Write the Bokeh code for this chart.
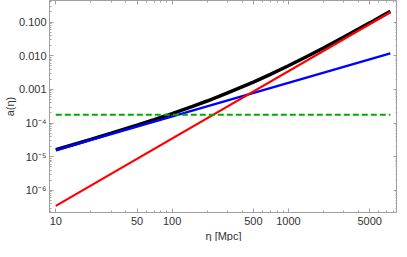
from bokeh.plotting import figure
from bokeh.models import (Range1d, FixedTicker, CustomJSTickFormatter, LogAxis, Title)
from bokeh.embed import file_html
from bokeh.resources import INLINE

# ---- data ----
eta_total = [10, 15, 20, 30, 50, 70, 100, 150, 200, 300, 500, 700, 1000,
             1500, 2000, 3000, 5000, 7520]
a_total = [1.61e-5, 2.44e-5, 3.28e-5, 5.03e-5, 8.73e-5, 1.27e-4, 1.92e-4,
           3.14e-4, 4.53e-4, 7.84e-4, 1.65e-3, 2.80e-3, 5.04e-3, 1.02e-2,
           1.70e-2, 3.59e-2, 9.46e-2, 0.208]
eta_rad = [10, 7520]
a_rad = [1.57e-5, 0.0118]
eta_mat = [10, 7520]
a_mat = [3.47e-7, 0.196]
eta_eq_line = [10, 7520]
a_eq_line = [1.78e-4, 1.78e-4]

x_ticks = [10, 50, 100, 500, 1000, 5000]
x_tick_labels = ["10", "50", "100", "500", "1000", "5000"]
y_ticks = [1e-6, 1e-5, 1e-4, 1e-3, 1e-2, 1e-1]
y_tick_labels = ["10\u207b\u2076", "10\u207b\u2075", "10\u207b\u2074", "0.001", "0.010", "0.100"]
x_title = "\u03b7 [Mpc]"
y_title = "a(\u03b7)"

x_minor = [m * d for d in (1, 10, 100, 1000) for m in range(2, 10)]
y_minor = [m * 10.0 ** e for e in range(-7, 0) for m in range(1, 10)]

FONT = "Liberation Sans"
FRAME = "#a0a0a0"
TXT = "#333333"

p = figure(width=397, height=241, x_axis_type="log", y_axis_type="log",
           x_range=Range1d(8.83, 8670), y_range=Range1d(2.21e-7, 0.438),
           output_backend="svg", toolbar_location=None,
           min_border_left=0, min_border_right=0, min_border_top=0, min_border_bottom=0)
p.grid.visible = False
p.outline_line_color = FRAME
p.background_fill_color = "white"
p.border_fill_color = "white"

fmt_code = """
for (let i = 0; i < tvals.length; i++) {
  if (Math.abs(Math.log10(tvals[i]) - Math.log10(tick)) < 1e-6) return tlabels[i];
}
return '';
"""

xt = FixedTicker(ticks=x_ticks, minor_ticks=x_minor)
yt = FixedTicker(ticks=y_ticks, minor_ticks=y_minor)
p.xaxis.ticker = xt
p.yaxis.ticker = yt
p.xaxis.formatter = CustomJSTickFormatter(args=dict(tvals=x_ticks, tlabels=x_tick_labels), code=fmt_code)
p.yaxis.formatter = CustomJSTickFormatter(args=dict(tvals=y_ticks, tlabels=y_tick_labels), code=fmt_code)

for ax in (p.xaxis[0], p.yaxis[0]):
    ax.axis_line_color = FRAME
    ax.major_tick_line_color = FRAME
    ax.minor_tick_line_color = FRAME
    ax.major_tick_in = 4
    ax.major_tick_out = 0
    ax.minor_tick_in = 2
    ax.minor_tick_out = 0
    ax.major_label_text_font = FONT
    ax.major_label_text_font_size = "11px"
    ax.major_label_text_color = TXT
    ax.axis_label_text_font = FONT
    ax.axis_label_text_font_size = "11px"
    ax.axis_label_text_font_style = "normal"
    ax.axis_label_text_color = TXT

p.yaxis.axis_label = y_title
p.xaxis.major_label_standoff = 4
p.yaxis.major_label_standoff = 3
p.yaxis.axis_label_standoff = 0

p.add_layout(Title(text=x_title, align="center", text_font=FONT, text_font_size="11px",
                   text_color=TXT, text_font_style="normal", standoff=0, offset=0), "below")

empty = CustomJSTickFormatter(code="return '';")
top = LogAxis(ticker=FixedTicker(ticks=x_ticks, minor_ticks=x_minor), formatter=empty)
right = LogAxis(ticker=FixedTicker(ticks=y_ticks, minor_ticks=y_minor), formatter=empty)
for ax in (top, right):
    ax.axis_line_color = FRAME
    ax.major_tick_line_color = FRAME
    ax.minor_tick_line_color = FRAME
    ax.major_tick_in = 4
    ax.major_tick_out = 0
    ax.minor_tick_in = 2
    ax.minor_tick_out = 0
    ax.major_label_standoff = 0
    ax.major_label_text_font_size = "0px"
p.add_layout(top, "above")
p.add_layout(right, "right")

p.line(eta_total, a_total, line_color="black", line_width=3.5)
p.line(eta_rad, a_rad, line_color="#0000ff", line_width=2.2)
p.line(eta_mat, a_mat, line_color="#ff0000", line_width=2.2)
p.line(eta_eq_line, a_eq_line, line_color="#00aa00", line_width=2, line_dash="6 3")

open("out.html", "w").write(file_html(p, INLINE))
